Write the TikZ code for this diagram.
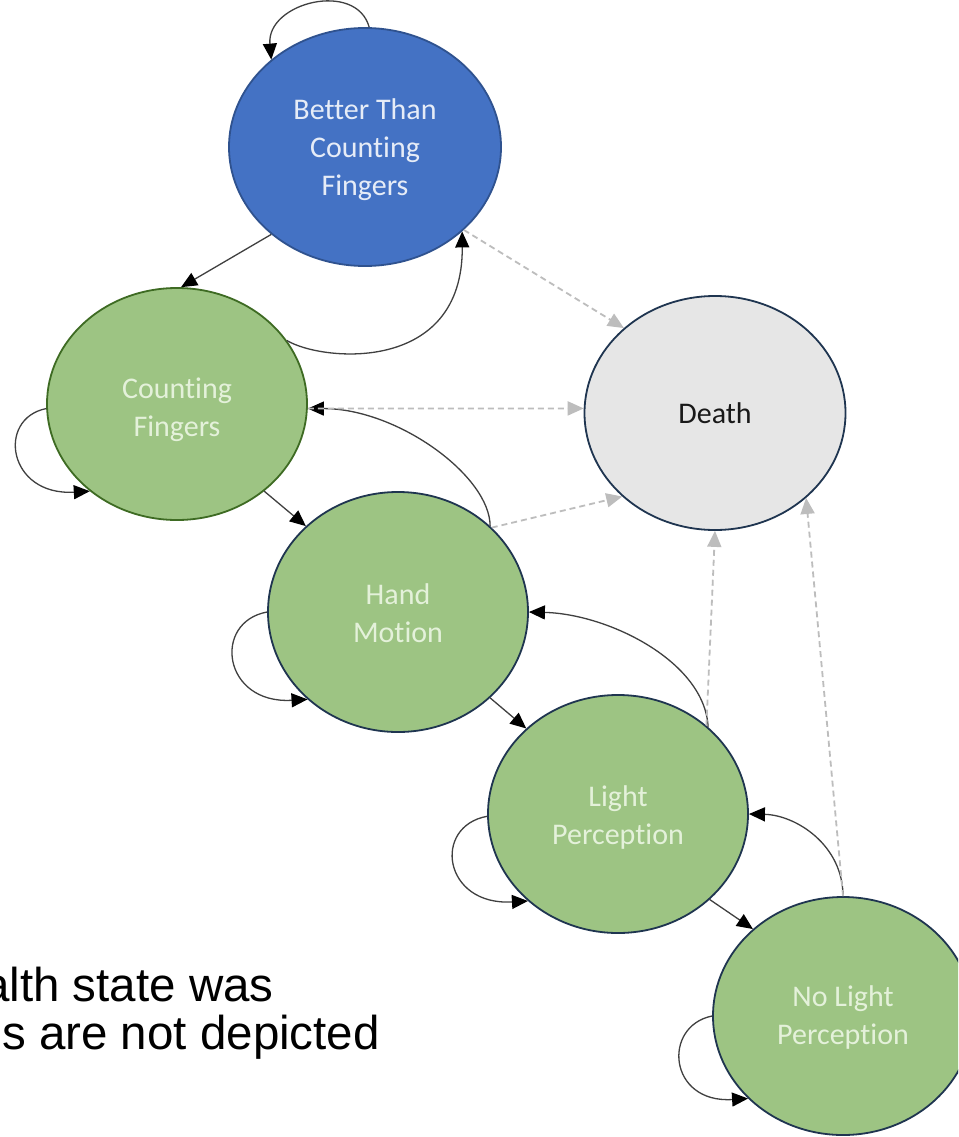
\documentclass[tikz,border=0pt]{standalone}
\usepackage{fontspec}
\setmainfont{Carlito}[Ligatures=NoCommon]
\newfontfamily\capfont{Liberation Sans}
\usetikzlibrary{shapes.geometric,arrows.meta}
\definecolor{bluefill}{HTML}{4472C4}
\definecolor{blueline}{HTML}{2F528F}
\definecolor{greenfill}{HTML}{9DC483}
\definecolor{greenline}{HTML}{3E6B23}
\definecolor{navyline}{HTML}{1F3550}
\definecolor{deathfill}{HTML}{E6E6E6}
\definecolor{greentext}{HTML}{E4F1DA}
\definecolor{bluetext}{HTML}{E6ECF7}
\definecolor{edgecol}{HTML}{404040}
\definecolor{dashcol}{HTML}{BDBDBD}
\newcommand{\lift}[1]{\rule{0pt}{#1pt}}
\tikzset{
  vstate/.style={ellipse, inner sep=0pt, line width=1.8pt, align=center,
    font=\fontsize{30}{38}\selectfont},
  greenstate/.style={vstate, fill=greenfill, draw=navyline, text=greentext},
  trans/.style={draw=edgecol, line width=1.3pt, -{Triangle[length=16pt,width=14pt,color=black]}},
  dtrans/.style={draw=dashcol, line width=1.8pt, dash pattern=on 6pt off 4pt,
    -{Triangle[length=16pt,width=14pt,color=dashcol]}},
  captext/.style={anchor=base west, inner sep=0pt, font=\capfont\fontsize{47.5}{50}\selectfont}
}
\begin{document}
\begin{tikzpicture}[x=1pt,y=-1pt]
\clip (0,0) rectangle (958,1137);
\fill[white] (0,0) rectangle (958,1137);

\node[vstate, fill=bluefill, draw=blueline, text=bluetext,
  minimum width=272pt, minimum height=238pt] (btcf) at (365,147) {\lift{27}Better Than\\Counting\\Fingers};
\node[greenstate, draw=greenline, minimum width=260pt, minimum height=232pt] (cf) at (177,404) {\lift{32}Counting\\Fingers};
\node[vstate, fill=deathfill, draw=navyline, text=black!90,
  minimum width=261pt, minimum height=234pt] (death) at (715,413) {Death};
\node[greenstate, minimum width=260pt, minimum height=240pt] (hm) at (398,612) {\lift{24}Hand\\Motion};
\node[greenstate, minimum width=260pt, minimum height=238pt] (lp) at (618,814) {\lift{28}Light\\Perception};
\node[greenstate, minimum width=260pt, minimum height=238pt] (nlp) at (843,1016) {\lift{24}No Light\\Perception};

% self loops
\draw[trans] (btcf.88) .. controls +(-13,-47) and +(-5,-57) .. (btcf.137);
\draw[trans] (cf.182) .. controls +(-50,10) and +(-82,5) .. (cf.225);
\draw[trans] (hm.180) .. controls +(-55,10) and +(-85,5) .. (hm.224);
\draw[trans] (lp.181) .. controls +(-55,10) and +(-85,5) .. (lp.224);
\draw[trans] (nlp.180) .. controls +(-50,10) and +(-80,5) .. (nlp.221);

% downward transitions
\draw[trans] (btcf.223) -- (cf.88);
\draw[trans] (cf.315) -- (hm.137);
\draw[trans] (hm.317) -- (lp.137);
\draw[trans] (lp.317) -- (nlp.136);

% upward transitions
\draw[trans] (cf.30) .. controls +(35,21) and +(1,143) .. (btcf.319);
\draw[trans] (hm.43) .. controls +(0,-50) and +(90,0) .. (cf.-2);
\draw[trans] (lp.44) .. controls +(-3,-65) and +(80,2) .. (hm.0);
\draw[trans] (nlp.90) .. controls +(0,-51) and +(47,1) .. (lp.0);

% transitions to death
\draw[dtrans] (btcf.320) -- (death.137);
\draw[dtrans] (cf.-2) -- (death.178);
\draw[dtrans] (hm.42) -- (death.222);
\draw[dtrans] (lp.45) -- (death.270);
\draw[dtrans] (nlp.90) -- (death.317);

% caption (cut off at the left edge)
\node[captext] (cap1) at (-17,1001) {alth state was};
\node[captext] (cap2) at (2,1049) {s are not depicted};
\end{tikzpicture}
\end{document}
